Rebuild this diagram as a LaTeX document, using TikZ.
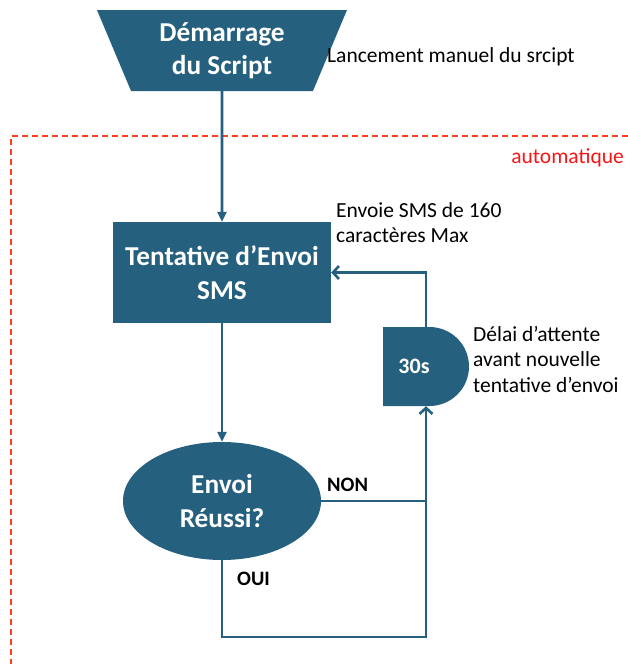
\documentclass[tikz,border=0pt]{standalone}
\usepackage{fontspec}
\setmainfont{Carlito}
\usetikzlibrary{shapes.geometric,shapes.misc,arrows.meta}

\definecolor{flowblue}{RGB}{37,96,127}
\definecolor{autored}{RGB}{255,60,30}
\definecolor{autotext}{RGB}{250,20,20}

\tikzset{
  bloc/.style={fill=flowblue, text=white, font=\bfseries\fontsize{27.3}{33.5}\selectfont, align=center, inner sep=0pt},
  flux/.style={draw=flowblue, line width=2.6pt},
  fleche/.style={-{Triangle[length=10pt,width=9pt]}},
  retour/.style={-{Straight Barb[length=6pt,width=13pt]}},
  note/.style={font=\fontsize{21.5}{25.5}\selectfont, align=left, inner sep=0pt},
  reponse/.style={font=\bfseries\fontsize{20.5}{24}\selectfont, inner sep=0pt},
}

\begin{document}
\begin{tikzpicture}[x=1pt, y=-1pt]
  \useasboundingbox (0,0) rectangle (628,664);

  % Zone automatique
  \draw[autored, line width=1.8pt, dash pattern=on 6pt off 4pt] (628,136) -| (11,664);
  \node[note, text=autotext, anchor=east] (auto) at (624,158) {automatique};

  % Blocs
  \node[bloc, trapezium, shape border rotate=180, trapezium angle=59, trapezium stretches body,
        minimum width=250pt, minimum height=81pt] (start) at (222,50.5) {Démarrage\\du Script};
  \node[bloc, minimum width=218pt, minimum height=101pt] (envoi) at (222,272.5) {Tentative d’Envoi\\SMS};
  \node[bloc, ellipse, minimum width=198pt, minimum height=118pt] (test) at (222,501) {Envoi\\Réussi?};
  \node[bloc, rounded rectangle, rounded rectangle left arc=none, minimum width=86pt, minimum height=79pt,
        label={[text=white, font=\bfseries\fontsize{22}{26}\selectfont, xshift=-12pt]center:30s}] (attente) at (426,366.5) {};

  % Notes
  \node[note, anchor=west] (lancement) at (327,57) {Lancement manuel du srcipt};
  \node[note, anchor=west] (sms) at (336,222.5) {Envoie SMS de 160\\caractères Max};
  \node[note, anchor=west] (delai) at (473,359) {Délai d’attente\\avant nouvelle\\tentative d’envoi};
  \node[reponse, anchor=west] (non) at (327,485) {NON};
  \node[reponse, anchor=west] (oui) at (237,579) {OUI};

  % Liaisons
  \draw[flux, fleche] (start.south) -- (envoi.north);
  \draw[flux, fleche] (envoi.south) -- (test.north);
  \draw[flux, retour] (test.east) -| (attente.south);
  \draw[flux, retour] (attente.north) |- (envoi.east);
  \coordinate (coin) at (426,637);
  \draw[flux] (test.south) |- (coin) -- (coin |- test.east);
\end{tikzpicture}
\end{document}
